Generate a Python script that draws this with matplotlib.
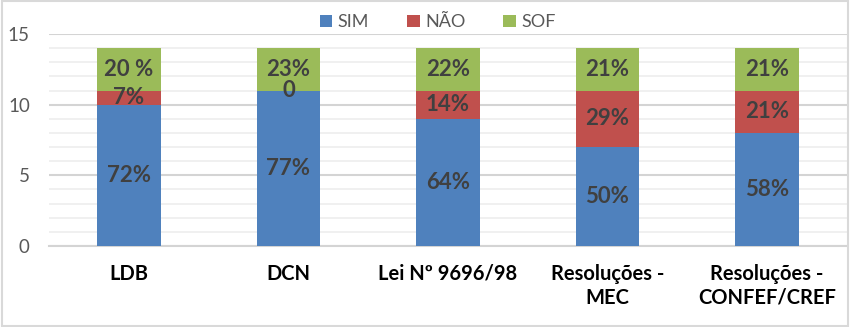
import matplotlib
matplotlib.use("Agg")
import matplotlib.pyplot as plt
import numpy as np

# Data
categories = ["LDB", "DCN", "Lei Nº 9696/98", "Resoluções -\nMEC", "Resoluções -\nCONFEF/CREF"]
sim = [10, 11, 9, 7, 8]
nao = [1, 0, 2, 4, 3]
sof = [3, 3, 3, 3, 3]
sim_labels = ["72%", "77%", "64%", "50%", "58%"]
nao_labels = ["7%", "0", "14%", "29%", "21%"]
sof_labels = ["20 %", "23%", "22%", "21%", "21%"]

plt.rcParams['font.family'] = ['Lato', 'DejaVu Sans']

blue = '#4F81BD'
red = '#C0504D'
green = '#9BBB59'
label_color = '#404040'

fig = plt.figure(figsize=(8.5, 3.27), dpi=100)
ax = fig.add_axes([0.058, 0.248, 0.938, 0.648])

x = np.arange(len(categories))
w = 0.4
sim_arr = np.array(sim)
nao_arr = np.array(nao)
b1 = ax.bar(x, sim, w, color=blue, label='SIM', zorder=3)
b2 = ax.bar(x, nao, w, bottom=sim_arr, color=red, label='NÃO', zorder=3)
b3 = ax.bar(x, sof, w, bottom=sim_arr + nao_arr, color=green, label='SOF', zorder=3)

for cont, labs in [(b1, sim_labels), (b2, nao_labels), (b3, sof_labels)]:
    ax.bar_label(cont, labels=labs, label_type='center', fontsize=16,
                 fontweight='bold', color=label_color, zorder=4)

ax.set_xlim(-0.5, len(categories) - 0.5)
ax.set_ylim(0, 15)
ax.set_yticks([0, 5, 10, 15])
ax.set_yticks(np.arange(0, 16, 1), minor=True)
ax.grid(axis='y', which='minor', color='#EDEDED', linewidth=1.2, zorder=0)
ax.grid(axis='y', which='major', color='#D4D4D4', linewidth=1.5, zorder=1)
ax.tick_params(axis='y', which='both', length=0, labelsize=13.5, labelcolor='#595959', pad=14)
ax.tick_params(axis='x', length=0, pad=13)
ax.set_xticks(x)
ax.set_xticklabels(categories, fontsize=14.5, fontweight='bold', color='black',
                   linespacing=1.25)
for s in ['top', 'right', 'left']:
    ax.spines[s].set_visible(False)
ax.spines['bottom'].set_color('#D4D4D4')
ax.spines['bottom'].set_linewidth(1.5)

ax.legend(loc='upper center', bbox_to_anchor=(0.487, 1.17), ncol=3, frameon=False,
          fontsize=13, handlelength=0.7, handleheight=0.7, handletextpad=0.3,
          columnspacing=2.1, labelcolor='#595959')

# light frame around the whole chart
fig.patches.append(plt.Rectangle((0.002, 0.004), 0.996, 0.992, transform=fig.transFigure,
                                 fill=False, edgecolor='#D9D9D9', linewidth=1.5))

fig.savefig('out.png', dpi=100, facecolor='white')
